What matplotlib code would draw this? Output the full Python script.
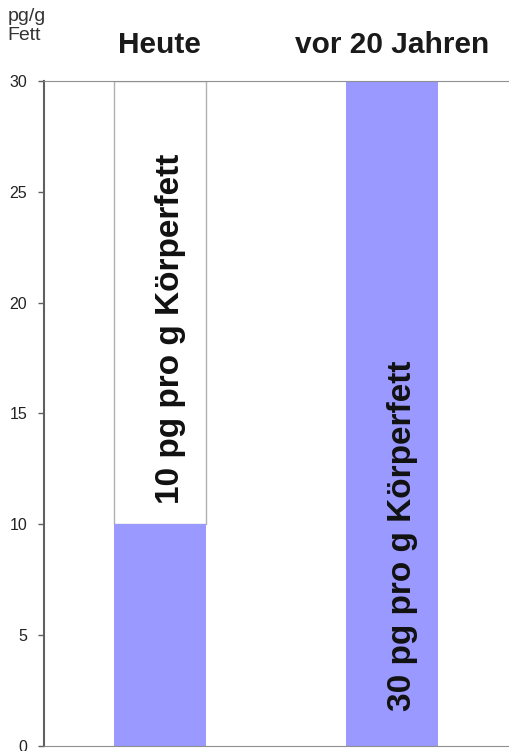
import matplotlib.pyplot as plt

# Dioxin im Körperfett
groups = ["Heute", "vor 20 Jahren"]
values = [10, 30]
labels = ["10 pg pro g Körperfett", "30 pg pro g Körperfett"]
label_y = [18.8, 9.5]
y_ticks = [0, 5, 10, 15, 20, 25, 30]
y_max = 30

fig = plt.figure(figsize=(5.10, 7.51), dpi=100)
ax = fig.add_axes([0.0863, 0.0067, 0.9137, 0.8855])

xs = list(range(len(groups)))
# blue bars plus a white box above for the remaining range
ax.bar(xs, [y_max - v for v in values], bottom=values, width=0.397,
       color="white", edgecolor="#b0b0b0", linewidth=1.0, zorder=1)
ax.bar(xs, values, width=0.397, color="#9999ff", edgecolor="none", zorder=2)

for x, txt, ty in zip(xs, labels, label_y):
    ax.text(x + 0.045, ty, txt, rotation=90, ha="center", va="center",
            fontsize=24, fontweight="bold", family="Liberation Sans",
            color="#111111", zorder=3)

ax.set_xlim(-0.5, 1.51)
ax.set_ylim(0, y_max)
ax.set_yticks(y_ticks)
ax.set_xticks([])
ax.tick_params(axis="y", length=4, width=1, color="#606060", pad=8,
               labelsize=11.5, labelcolor="#222222")
for lbl in ax.get_yticklabels():
    lbl.set_family("Liberation Sans")

ax.spines["left"].set_color("#606060")
ax.spines["left"].set_linewidth(1.5)
ax.spines["top"].set_color("#909090")
ax.spines["bottom"].set_color("#909090")
ax.spines["right"].set_visible(False)

# group captions above the plot
for x, g in zip(xs, groups):
    ax.text(x, 31.6, g, ha="center", va="center", fontsize=21.5,
            fontweight="bold", family="Liberation Sans", color="#1a1a1a",
            clip_on=False)

fig.text(0.015, 0.99, "pg/g\nFett", ha="left", va="top", fontsize=14,
         family="Liberation Sans", color="#333333", linespacing=1.2)

fig.savefig("out.png", dpi=100)
